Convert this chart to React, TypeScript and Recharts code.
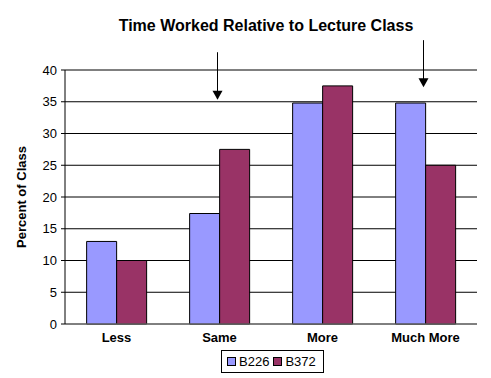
import {
    BarChart,
    Bar,
    XAxis,
    YAxis,
    CartesianGrid,
    ReferenceLine,
} from 'recharts';

const categories = ['Less', 'Same', 'More', 'Much More'];
const b226 = [13.0, 17.4, 34.8, 34.8];
const b372 = [10.0, 27.5, 37.5, 25.0];
const yTicks = [0, 5, 10, 15, 20, 25, 30, 35, 40];

// arrows drawn above two of the categories: [category, start value, tip value]
const arrows: [string, number, number][] = [
    ['Same', 42.8, 35.3],
    ['Much More', 44.7, 37.3],
];

const FONT = 'Arial, "Liberation Sans", sans-serif';
const COLORS = { B226: '#9999FF', B372: '#993366' };

const data = categories.map((c, i) => ({ name: c, B226: b226[i], B372: b372[i] }));

function ArrowShape(props: any) {
    const { x1, y1, y2 } = props;
    const top = Math.min(y1, y2);
    const tip = Math.max(y1, y2);
    const x = x1 - 2;
    return (
        <g>
            <line x1={x} y1={top} x2={x} y2={tip - 6} stroke="#000" strokeWidth={1} />
            <polygon points={`${x - 5},${tip - 9} ${x + 5},${tip - 9} ${x},${tip}`} fill="#000" />
        </g>
    );
}

function LegendBox() {
    const item = (key: 'B226' | 'B372') => (
        <span style={{ display: 'inline-flex', alignItems: 'center', marginRight: 4 }}>
            <span
                style={{
                    display: 'inline-block',
                    width: 7,
                    height: 7,
                    background: COLORS[key],
                    border: '1px solid #000',
                    marginRight: 3,
                }}
            />
            {key}
        </span>
    );
    return (
        <div
            style={{
                position: 'absolute',
                left: 221,
                top: 350,
                width: 96,
                height: 21,
                boxSizing: 'content-box',
                border: '1px solid #000',
                fontFamily: FONT,
                fontSize: 13,
                padding: '0 0 0 5px',
                display: 'flex',
                alignItems: 'center',
                background: '#fff',
            }}
        >
            {item('B226')}
            {item('B372')}
        </div>
    );
}

export default function App() {
    return (
        <div style={{ position: 'absolute', left: 0, top: 0, width: 491, height: 378, background: '#fff' }}>
            <BarChart
                width={491}
                height={378}
                data={data}
                margin={{ top: 70, right: 14, bottom: 24, left: 0 }}
                barCategoryGap="21%"
                barGap={0}
            >
                <CartesianGrid vertical={false} stroke="#000" />
                <XAxis
                    dataKey="name"
                    height={30}
                    stroke="#808080"
                    tickLine={false}
                    tickSize={0}
                    tickMargin={9}
                    tick={{ fill: '#000', fontFamily: FONT, fontSize: 13, fontWeight: 'bold' }}
                />
                <XAxis xAxisId="top" orientation="top" dataKey="name" stroke="#808080" tick={false} tickLine={false} height={0} />
                <YAxis
                    domain={[0, 40]}
                    ticks={yTicks}
                    width={65}
                    stroke="#000"
                    tickSize={4}
                    tickMargin={4}
                    interval={0}
                    tick={{ fill: '#000', fontFamily: FONT, fontSize: 13 }}
                    label={{
                        value: 'Percent of Class',
                        angle: -90,
                        position: 'insideLeft',
                        offset: 21,
                        style: { textAnchor: 'middle', fontFamily: FONT, fontSize: 13, fontWeight: 'bold', fill: '#000' },
                    }}
                />
                <YAxis yAxisId="right" orientation="right" domain={[0, 40]} stroke="#808080" tick={false} tickLine={false} width={0} />
                <Bar dataKey="B226" fill={COLORS.B226} stroke="#000" strokeWidth={1} isAnimationActive={false} />
                <Bar dataKey="B372" fill={COLORS.B372} stroke="#000" strokeWidth={1} isAnimationActive={false} />
                {arrows.map(([cat, from, to]) => (
                    <ReferenceLine
                        key={cat}
                        segment={[{ x: cat, y: from }, { x: cat, y: to }]}
                        ifOverflow="visible"
                        shape={ArrowShape}
                    />
                ))}
            </BarChart>
            <div
                style={{
                    position: 'absolute',
                    left: 0,
                    width: 532,
                    top: 17,
                    textAlign: 'center',
                    fontFamily: FONT,
                    fontWeight: 'bold',
                    fontSize: 16,
                }}
            >
                Time Worked Relative to Lecture Class
            </div>
            <LegendBox />
        </div>
    );
}
